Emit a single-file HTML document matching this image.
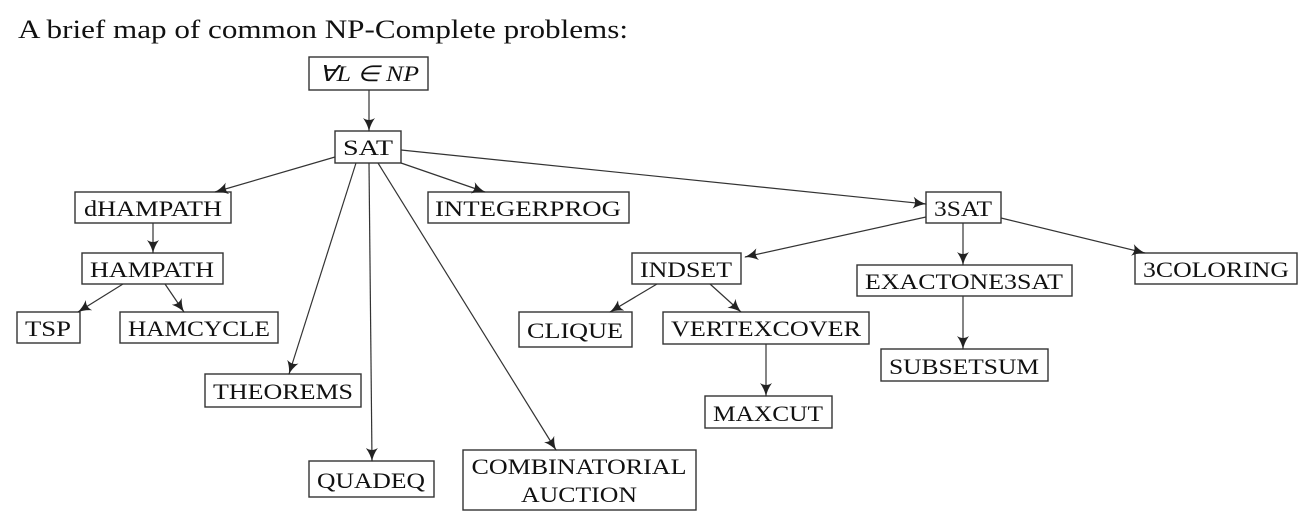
<!DOCTYPE html>
<html><head><meta charset="utf-8"><style>
html,body{margin:0;padding:0;background:#fff;}
svg{display:block;}
text{font-family:"Liberation Serif",serif;font-size:22px;fill:#111;}
</style></head><body>
<svg width="1302" height="517" viewBox="0 0 1302 517" xmlns="http://www.w3.org/2000/svg">
<defs>
<marker id="a" viewBox="0 0 14 12" refX="13" refY="6" markerWidth="14" markerHeight="12" markerUnits="userSpaceOnUse" orient="auto">
<path d="M0,0 Q7,5 14,6 Q7,7 0,12 Q4,6 0,0 Z" fill="#222"/>
</marker>
</defs>
<text x="18" y="38" style="font-size:26px" textLength="610" lengthAdjust="spacingAndGlyphs">A brief map of common NP-Complete problems:</text>
<g fill="none" stroke="#333" stroke-width="1.4">
<rect x="309" y="57" width="119" height="33"/>
<rect x="335" y="131" width="66" height="32"/>
<rect x="75" y="192" width="156" height="31"/>
<rect x="428" y="192" width="201" height="31"/>
<rect x="926" y="192" width="75" height="31"/>
<rect x="632" y="253" width="109" height="31"/>
<rect x="857" y="265" width="215" height="31"/>
<rect x="1135" y="253" width="162" height="31"/>
<rect x="82" y="253" width="141" height="31"/>
<rect x="17" y="312" width="63" height="31"/>
<rect x="120" y="312" width="158" height="31"/>
<rect x="519" y="312" width="113" height="35"/>
<rect x="663" y="312" width="206" height="32"/>
<rect x="881" y="349" width="167" height="32"/>
<rect x="205" y="374" width="156" height="33"/>
<rect x="705" y="396" width="127" height="32"/>
<rect x="309" y="461" width="125" height="36"/>
<rect x="463" y="450" width="233" height="60"/>
</g>
<g stroke="#333" stroke-width="1.2" marker-end="url(#a)">
<line x1="369" y1="90" x2="369" y2="131"/>
<line x1="335" y1="157" x2="215" y2="192"/>
<line x1="401" y1="163" x2="485" y2="192"/>
<line x1="401" y1="150" x2="926" y2="204"/>
<line x1="356" y1="163" x2="289" y2="374"/>
<line x1="369" y1="163" x2="372" y2="461"/>
<line x1="378" y1="163" x2="556" y2="450"/>
<line x1="153" y1="223" x2="153" y2="253"/>
<line x1="123" y1="284" x2="78" y2="312"/>
<line x1="165" y1="284" x2="184" y2="312"/>
<line x1="926" y1="217" x2="745" y2="257"/>
<line x1="963" y1="223" x2="963" y2="265"/>
<line x1="1001" y1="218" x2="1145" y2="253"/>
<line x1="657" y1="284" x2="610" y2="312"/>
<line x1="710" y1="284" x2="741" y2="312"/>
<line x1="766" y1="344" x2="766" y2="396"/>
<line x1="963" y1="296" x2="963" y2="349"/>
</g>
<g text-anchor="middle" lengthAdjust="spacingAndGlyphs">
<text x="369" y="81" style="font-style:italic" textLength="100" lengthAdjust="spacingAndGlyphs">∀L ∈ NP</text>
<text x="368" y="155" textLength="50" lengthAdjust="spacingAndGlyphs">SAT</text>
<text x="153" y="216" textLength="138" lengthAdjust="spacingAndGlyphs">dHAMPATH</text>
<text x="528" y="216" textLength="186" lengthAdjust="spacingAndGlyphs">INTEGERPROG</text>
<text x="963" y="216" textLength="58" lengthAdjust="spacingAndGlyphs">3SAT</text>
<text x="686" y="277" textLength="92" lengthAdjust="spacingAndGlyphs">INDSET</text>
<text x="964" y="289" textLength="198" lengthAdjust="spacingAndGlyphs">EXACTONE3SAT</text>
<text x="1216" y="277" textLength="146" lengthAdjust="spacingAndGlyphs">3COLORING</text>
<text x="152" y="277" textLength="124" lengthAdjust="spacingAndGlyphs">HAMPATH</text>
<text x="48" y="336" textLength="46" lengthAdjust="spacingAndGlyphs">TSP</text>
<text x="199" y="336" textLength="142" lengthAdjust="spacingAndGlyphs">HAMCYCLE</text>
<text x="575" y="338" textLength="96" lengthAdjust="spacingAndGlyphs">CLIQUE</text>
<text x="766" y="336" textLength="190" lengthAdjust="spacingAndGlyphs">VERTEXCOVER</text>
<text x="964" y="374" textLength="150" lengthAdjust="spacingAndGlyphs">SUBSETSUM</text>
<text x="283" y="399" textLength="140" lengthAdjust="spacingAndGlyphs">THEOREMS</text>
<text x="768" y="421" textLength="110" lengthAdjust="spacingAndGlyphs">MAXCUT</text>
<text x="371" y="488" textLength="108" lengthAdjust="spacingAndGlyphs">QUADEQ</text>
<text x="579" y="474" textLength="215" lengthAdjust="spacingAndGlyphs">COMBINATORIAL</text>
<text x="579" y="502" textLength="116" lengthAdjust="spacingAndGlyphs">AUCTION</text>
</g>
</svg>
</body></html>
